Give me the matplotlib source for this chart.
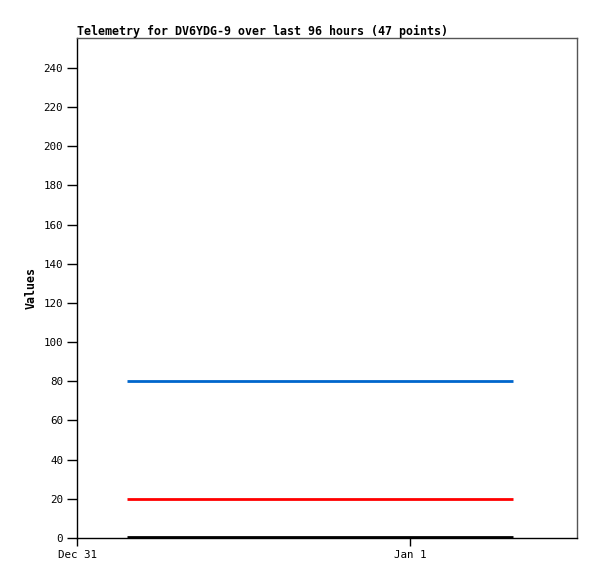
import matplotlib
matplotlib.use("Agg")
import matplotlib.pyplot as plt
import matplotlib.dates as mdates
import pandas as pd

title = "Telemetry for DV6YDG-9 over last 96 hours (47 points)"
times = pd.to_datetime(["2023-12-31 03:36", "2024-01-01 07:25"])
series_blue = [80, 80]
series_red = [20, 20]
series_black = [0.3, 0.3]
yticks = [0, 20, 40, 60, 80, 100, 120, 140, 160, 180, 200, 220, 240]
xtick_times = pd.to_datetime(["2023-12-31", "2024-01-01"])
xtick_labels = ["Dec 31", "Jan 1"]

plt.rcParams['font.family'] = ['DejaVu Sans Mono']

fig = plt.figure(figsize=(5.97, 5.79), dpi=100)
W, H = 597, 579
ax = fig.add_axes([77 / W, 1 - 538 / H, 500 / W, 500 / H])

ax.plot(times, series_blue, color="#0066cc", lw=2, solid_capstyle="butt")
ax.plot(times, series_red, color="#ff0000", lw=2, solid_capstyle="butt")
ax.plot(times, series_black, color="#000000", lw=2, solid_capstyle="butt")

ax.set_xlim(pd.Timestamp("2023-12-31 00:00"), pd.Timestamp("2024-01-01 12:00"))
ax.set_ylim(0, 255.3)
ax.set_yticks(yticks)
ax.set_xticks(xtick_times)
ax.set_xticklabels(xtick_labels)

ax.tick_params(axis="both", direction="out", length=6, width=1, labelsize=7.8, color="black", pad=3)
ax.tick_params(axis="y", length=7)

for s in ["left", "bottom"]:
    ax.spines[s].set_color("black")
    ax.spines[s].set_linewidth(1)
for s in ["top", "right"]:
    ax.spines[s].set_color("#555555")
    ax.spines[s].set_linewidth(1)

fig.text(77 / W, 1 - 35 / H, title, fontsize=8.4, fontweight="bold", ha="left", va="baseline")
ax.set_ylabel("Values", fontsize=8.4, fontweight="bold", labelpad=4)

fig.savefig("out.png", dpi=100)
